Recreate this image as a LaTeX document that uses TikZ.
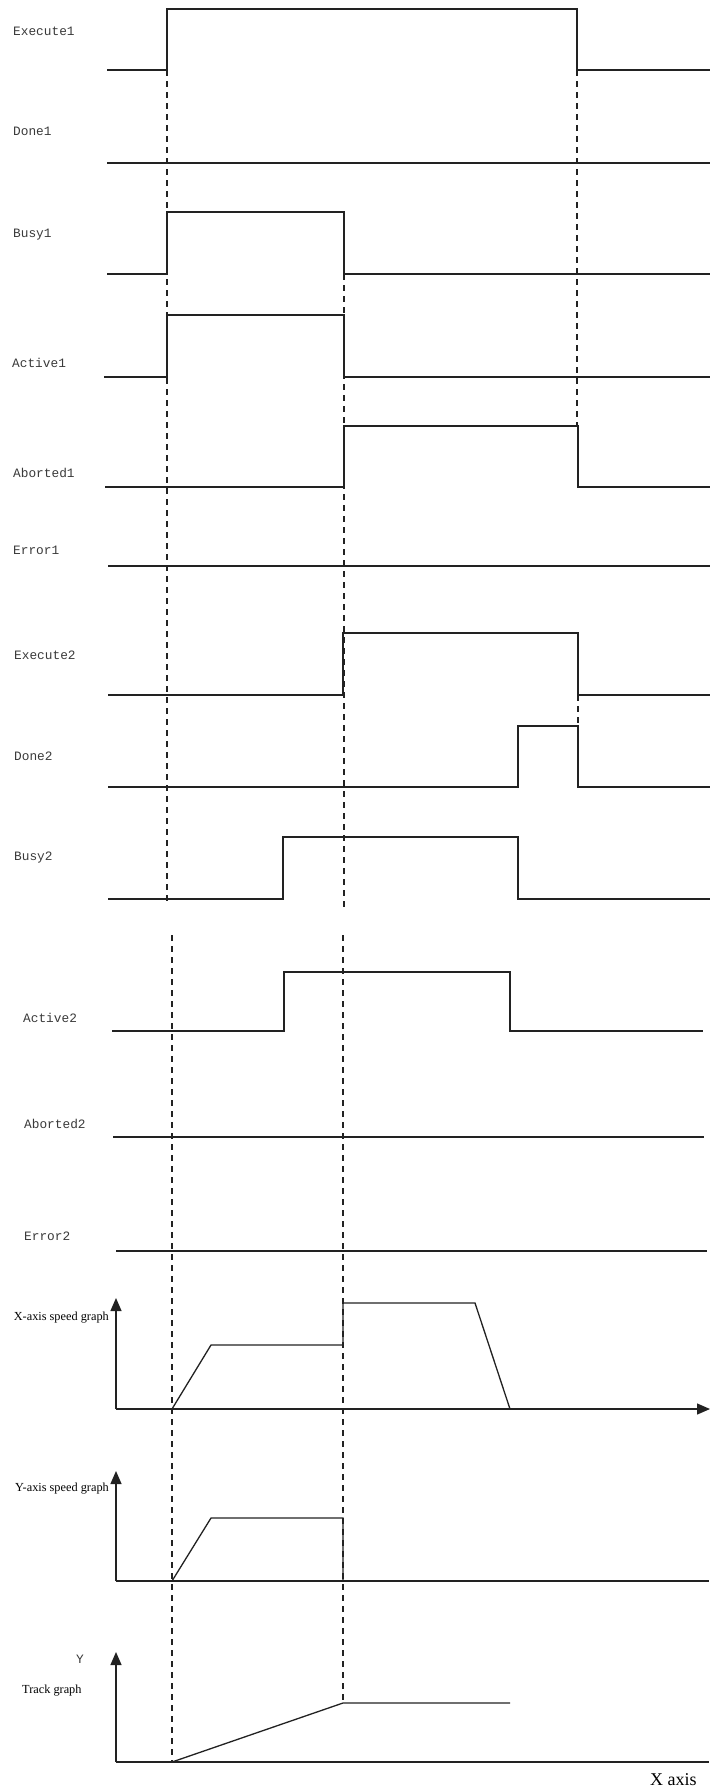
\documentclass[tikz,border=0pt]{standalone}
\usepackage{fontspec}
\setmainfont{Liberation Serif}
\newfontfamily\sigfont{Liberation Mono}
\usetikzlibrary{arrows.meta}
\definecolor{ink}{HTML}{222222}
\definecolor{lab}{HTML}{3A3A3A}
\begin{document}
\begin{tikzpicture}[x=1pt,y=-1pt,
  sig/.style={draw=ink,line width=1.3pt,line join=miter},
  guide/.style={draw=ink,line width=1.3pt,dash pattern=on 6pt off 5pt},
  axisarrow/.style={draw=ink,line width=1.3pt,-{Triangle[length=13pt,width=11pt]}},
  siglabel/.style={anchor=west,inner sep=0pt,text=lab,font=\sigfont\fontsize{12.8}{14}\selectfont},
  graphlabel/.style={inner sep=0pt,text=black,font=\fontsize{12.3}{14}\selectfont}]
\useasboundingbox (0,0) rectangle (710,1791);
\fill[white] (0,0) rectangle (710,1791);

% labels
\node[siglabel] (lE1) at (13,31) {Execute1};
\node[siglabel] (lD1) at (13,131) {Done1};
\node[siglabel] (lB1) at (13,235) {Busy1};
\node[siglabel] (lA1) at (12,363) {Active1};
\node[siglabel] (lAb1) at (13,473) {Aborted1};
\node[siglabel] (lEr1) at (13,550) {Error1};
\node[siglabel] (lE2) at (14,655) {Execute2};
\node[siglabel] (lD2) at (14,756) {Done2};
\node[siglabel] (lB2) at (14,858) {Busy2};
\node[siglabel] (lA2) at (23,1018) {Active2};
\node[siglabel] (lAb2) at (24,1124) {Aborted2};
\node[siglabel] (lEr2) at (24,1236) {Error2};

% guide lines
\draw[guide] (167,70) -- (167,905);
\draw[guide] (344,274) -- (344,908);
\draw[guide] (577,70) -- (577,426);
\draw[guide] (578,695) -- (578,726);
\draw[guide] (172,935) -- (172,1762);
\draw[guide] (343,935) -- (343,1703);

% signals
\draw[sig] (107,70) -- (167,70) -- (167,9) -- (577,9) -- (577,70) -- (710,70);
\draw[sig] (107,163) -- (710,163);
\draw[sig] (107,274) -- (167,274) -- (167,212) -- (344,212) -- (344,274) -- (710,274);
\draw[sig] (104,377) -- (167,377) -- (167,315) -- (344,315) -- (344,377) -- (710,377);
\draw[sig] (105,487) -- (344,487) -- (344,426) -- (578,426) -- (578,487) -- (710,487);
\draw[sig] (108,566) -- (710,566);
\draw[sig] (108,695) -- (343,695) -- (343,633) -- (578,633) -- (578,695) -- (710,695);
\draw[sig] (108,787) -- (518,787) -- (518,726) -- (578,726) -- (578,787) -- (710,787);
\draw[sig] (108,899) -- (283,899) -- (283,837) -- (518,837) -- (518,899) -- (710,899);
\draw[sig] (112,1031) -- (284,1031) -- (284,972) -- (510,972) -- (510,1031) -- (703,1031);
\draw[sig] (113,1137) -- (704,1137);
\draw[sig] (116,1251) -- (707,1251);

% X-axis speed graph
\node[graphlabel,anchor=east] (lXg) at (109,1318) {X-axis speed graph};
\coordinate (xo) at (116,1409);
\draw[axisarrow] (xo) -- (710,1409);
\draw[axisarrow] (xo) -- (116,1298);
\draw[sig] (172,1409) -- (211,1345) -- (343,1345) -- (343,1303) -- (475,1303) -- (510,1409);

% Y-axis speed graph
\node[graphlabel,anchor=east] (lYg) at (109,1489) {Y-axis speed graph};
\coordinate (yo) at (116,1581);
\draw[sig] (yo) -- (709,1581);
\draw[axisarrow] (yo) -- (116,1471);
\draw[sig] (172,1581) -- (211,1518) -- (343,1518) -- (343,1581);

% Track graph
\node[inner sep=0pt,text=lab,font=\sigfont\fontsize{12.8}{14}\selectfont] (lY) at (80,1659) {Y};
\node[graphlabel,anchor=west] (lTr) at (22,1691) {Track graph};
\coordinate (to) at (116,1762);
\draw[sig] (to) -- (709,1762);
\draw[axisarrow] (to) -- (116,1652);
\draw[sig] (172,1762) -- (343,1703) -- (510,1703);
\node[inner sep=0pt,anchor=west,font=\fontsize{18}{20}\selectfont] (lXa) at (650,1780) {X axis};
\end{tikzpicture}
\end{document}
